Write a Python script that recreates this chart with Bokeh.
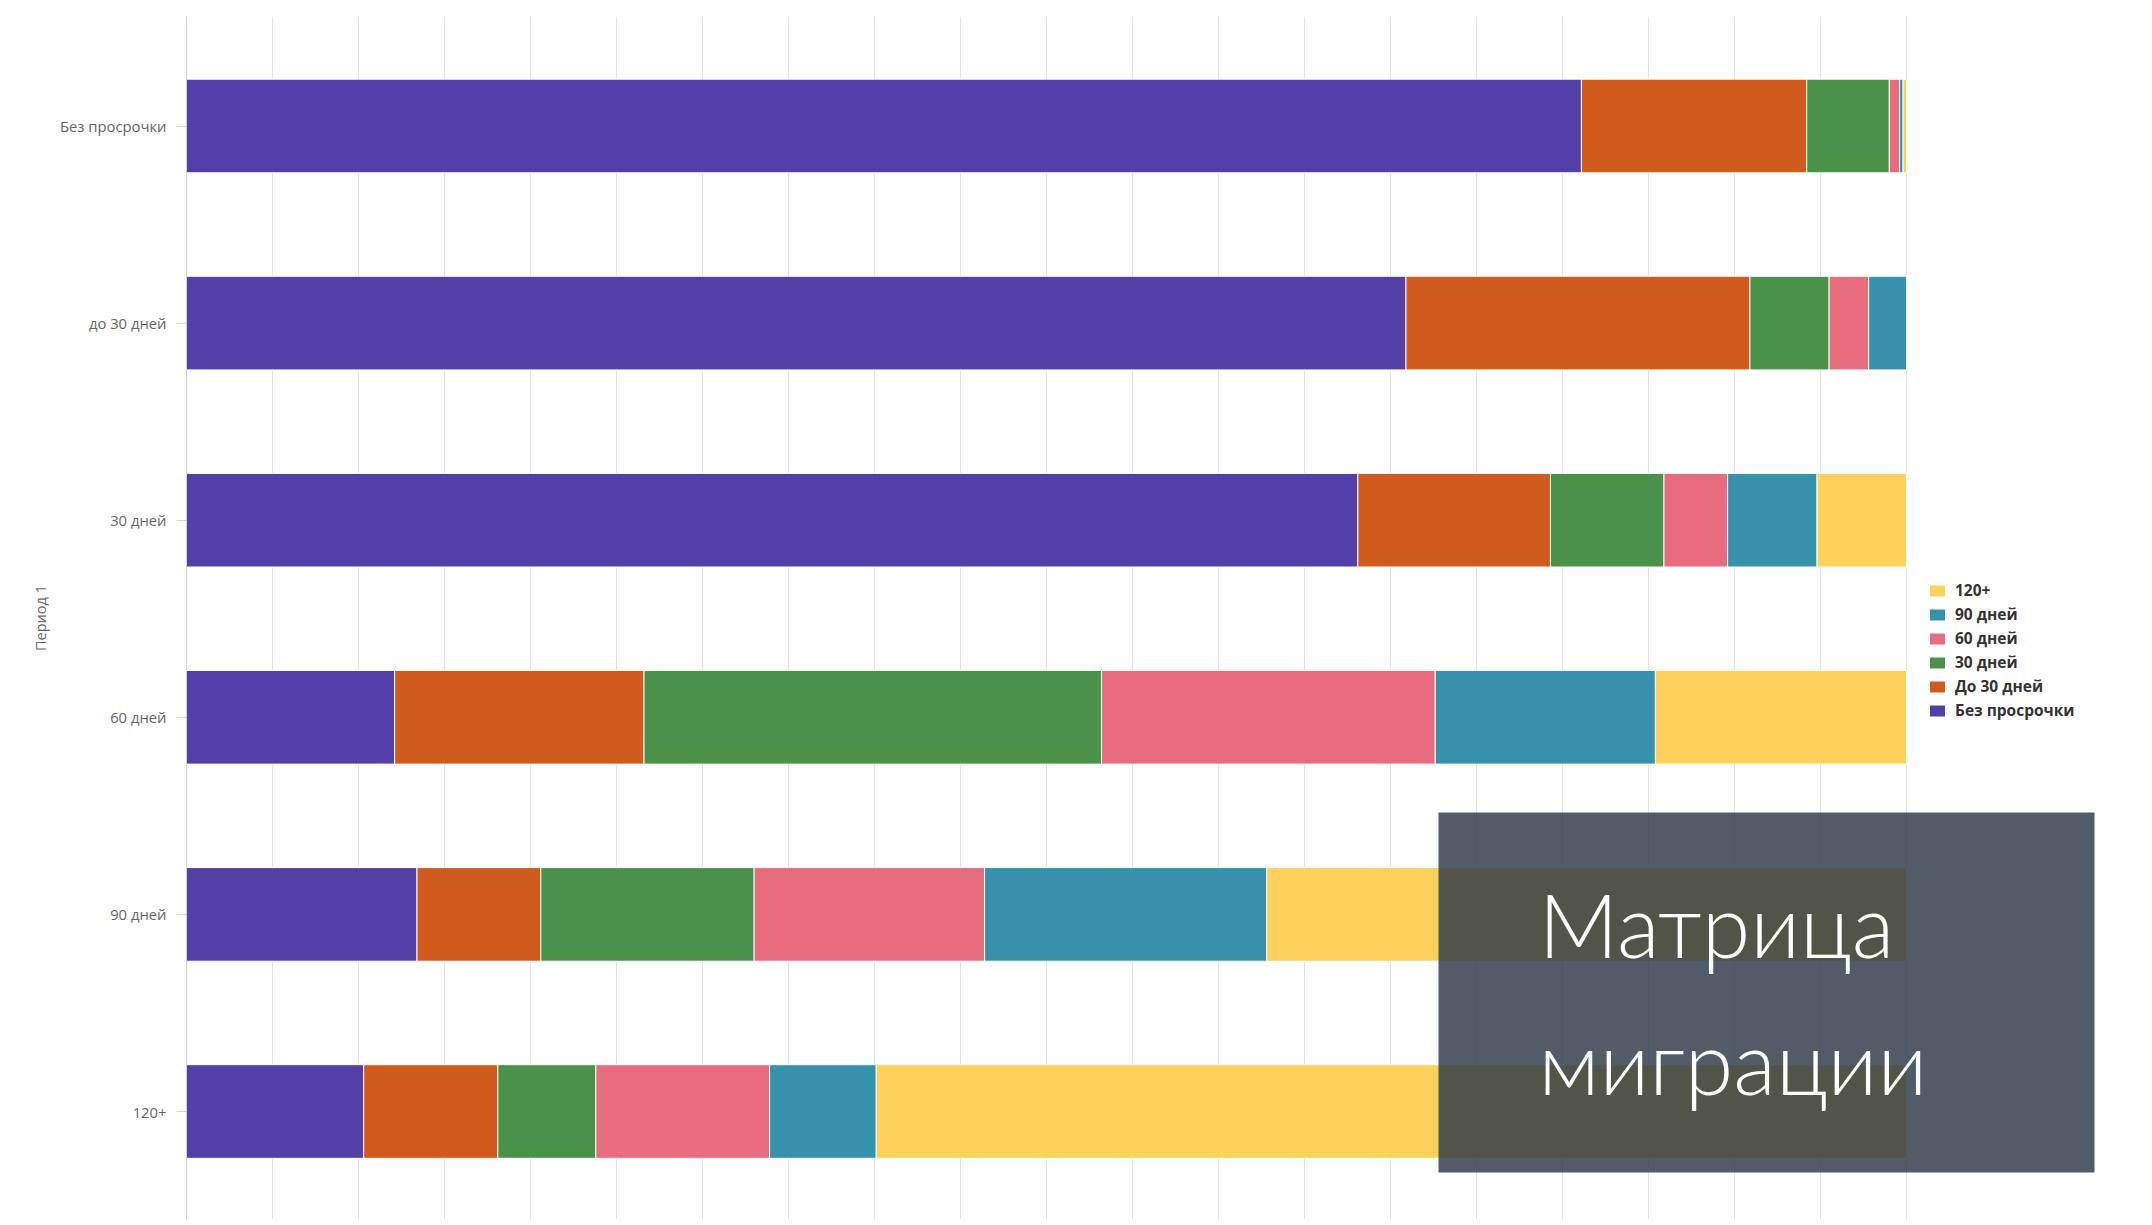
from bokeh.plotting import figure
from bokeh.models import (Range1d, FixedTicker, Legend, LegendItem, BoxAnnotation,
                          Label, ColumnDataSource)
from bokeh.embed import file_html
from bokeh.resources import INLINE

# ---------------- data ----------------
periods = ["Без просрочки", "до 30 дней", "30 дней", "60 дней", "90 дней", "120+"]
series = ["Без просрочки", "До 30 дней", "30 дней", "60 дней", "90 дней", "120+"]
no_delay = [81.1, 70.9, 68.1, 12.1, 13.4, 10.3]
up_to_30 = [13.1, 20.0, 11.2, 14.5, 7.2, 7.8]
d30 = [4.8, 4.6, 6.6, 26.6, 12.4, 5.7]
d60 = [0.6, 2.3, 3.7, 19.4, 13.4, 10.1]
d90 = [0.2, 2.2, 5.2, 12.8, 16.4, 6.2]
d120 = [0.2, 0.0, 5.2, 14.6, 37.2, 59.9]
x_ticks = list(range(0, 101, 5))
colors = ["#533fa8", "#d15a1d", "#4a9249", "#e66c7e", "#3692ab", "#fed15c"]
y_axis_title = "Период 1"
title_lines = ["Матрица", "миграции"]

keys = ["s0", "s1", "s2", "s3", "s4", "s5"]
source = ColumnDataSource(dict(
    y=list(range(len(periods))),
    s0=no_delay, s1=up_to_30, s2=d30, s3=d60, s4=d90, s5=d120,
))

# ---------------- layout ----------------
W, H = 2152, 1225
FRAME_L, FRAME_T, FRAME_B = 186, 16, 1219
PX_PER_X = 17.2
ROW0_Y, ROW_STEP = 125.5, 197.1
X_END = (W - FRAME_L) / PX_PER_X
Y_TOP = (FRAME_T - ROW0_Y) / ROW_STEP
Y_BOTTOM = (FRAME_B - ROW0_Y) / ROW_STEP

p = figure(width=W, height=H, output_backend="svg", toolbar_location=None,
           x_range=Range1d(0, X_END), y_range=Range1d(Y_BOTTOM, Y_TOP),
           x_axis_location=None, min_border_left=FRAME_L, min_border_right=0,
           min_border_top=FRAME_T, min_border_bottom=H - FRAME_B)
p.outline_line_color = None
p.background_fill_color = "white"
p.border_fill_color = "white"

p.ygrid.visible = False
p.xgrid.ticker = FixedTicker(ticks=x_ticks)
p.xgrid.grid_line_color = "#e3e3e3"
p.xgrid.grid_line_width = 1

ax = p.yaxis[0]
ax.ticker = FixedTicker(ticks=list(range(len(periods))))
ax.major_label_overrides = {i: name for i, name in enumerate(periods)}
ax.axis_line_color = "#ccd6eb"
ax.major_tick_line_color = "#ccd6eb"
ax.major_tick_in = 0
ax.major_tick_out = 10
ax.minor_tick_line_color = None
ax.major_label_standoff = 10
ax.major_label_text_font = "Open Sans"
ax.major_label_text_font_size = "14.8px"
ax.major_label_text_color = "#666666"
ax.axis_label = y_axis_title
ax.axis_label_text_font = "Open Sans"
ax.axis_label_text_font_size = "14.5px"
ax.axis_label_text_font_style = "normal"
ax.axis_label_text_color = "#666666"
ax.axis_label_standoff = 7

renderers = p.hbar_stack(keys, y="y", height=0.475, source=source,
                         fill_color=colors, line_color="white", line_width=1)

legend = Legend(items=[LegendItem(label=s, renderers=[r])
                       for s, r in reversed(list(zip(series, renderers)))],
                location=(1927 - FRAME_L, FRAME_B - 721))
legend.border_line_color = None
legend.background_fill_alpha = 0
legend.padding = 0
legend.margin = 0
legend.spacing = 2
legend.glyph_width = 20
legend.glyph_height = 15
legend.label_height = 20
legend.label_standoff = 8
legend.label_text_font = "Open Sans"
legend.label_text_font_style = "bold"
legend.label_text_font_size = "15.5px"
legend.label_text_color = "#333333"
p.add_layout(legend)

# page-pixel -> data helpers for the decorative overlay
def xd(px):
    return (px - FRAME_L) / PX_PER_X

def yd(py):
    return (py - ROW0_Y) / ROW_STEP

box = BoxAnnotation(left=xd(1438), right=xd(2094), top=yd(812), bottom=yd(1172),
                    fill_color="#2c3847", fill_alpha=0.82, line_color=None)
p.add_layout(box)

for line, base in zip(title_lines, [923, 1060]):
    p.add_layout(Label(x=xd(1538), y=yd(base), text=line, text_color="white",
                       text_font="Lato Light", text_font_size="88px",
                       text_baseline="alphabetic", text_align="left"))

# left-edge grey handle strip of the page
strip = BoxAnnotation(left=0, right=9, top=0, bottom=H,
                      left_units="canvas", right_units="canvas",
                      top_units="canvas", bottom_units="canvas",
                      fill_color="#ececec", fill_alpha=1, line_color=None)
p.add_layout(strip)
strip2 = BoxAnnotation(left=0, right=3, top=45, bottom=H,
                       left_units="canvas", right_units="canvas",
                       top_units="canvas", bottom_units="canvas",
                       fill_color="#e2e2ea", fill_alpha=1, line_color=None)
p.add_layout(strip2)

open("out.html", "w").write(file_html(p, INLINE))
